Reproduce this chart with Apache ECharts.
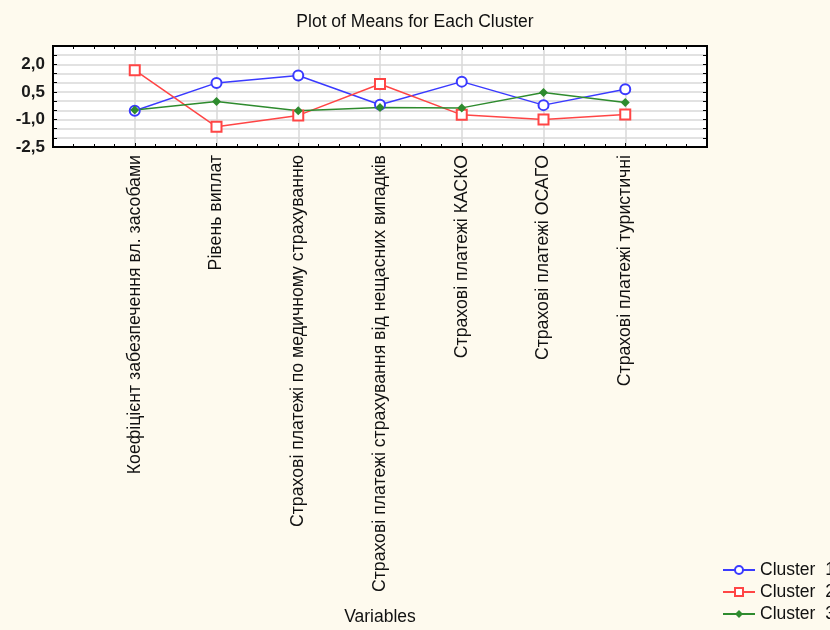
<!DOCTYPE html>
<html><head><meta charset="utf-8">
<script src="https://cdn.jsdelivr.net/npm/echarts@6/dist/echarts.min.js"></script>
<style>html,body{margin:0;padding:0;background:#fefaee;}#c{width:830px;height:630px;}</style>
</head><body><div id="c"></div>
<script>
const categories = ["Коефіцієнт забезпечення вл. засобами","Рівень виплат","Страхові платежі по медичному страхуванню","Страхові платежі страхування від нещасних випадків","Страхові платежі КАСКО","Страхові платежі ОСАГО","Страхові платежі туристичні"];
const cluster1 = [-0.53, 0.99, 1.39, -0.20, 1.06, -0.22, 0.65];
const cluster2 = [1.68, -1.40, -0.78, 0.93, -0.75, -1.00, -0.73];
const cluster3 = [-0.48, -0.02, -0.53, -0.35, -0.37, 0.47, -0.08];
const seriesNames = ["Cluster  1","Cluster  2","Cluster  3"];
const yTickLabels = [-2.5, -1.0, 0.5, 2.0];

const font = "Liberation Sans, Arial, sans-serif";
function pts(arr){ return arr.map((v,i)=>[i+1, v]); }
const chart = echarts.init(document.getElementById('c'), null, {renderer:'canvas'});
const xCommon = {
  type:'value', min:0, max:8, interval:1,
  splitLine:{show:false},
  axisTick:{show:true, inside:true, length:4, lineStyle:{color:'#000'}},
  minorTick:{show:true, splitNumber:4, length:3, lineStyle:{color:'#000'}},
  axisLine:{show:true, onZero:false, lineStyle:{color:'#000', width:2}}
};
const yCommon = {
  type:'value', min:-2.5, max:3.0, interval:0.5,
  axisTick:{show:true, inside:true, length:4, lineStyle:{color:'#000'}},
  axisLine:{show:true, onZero:false, lineStyle:{color:'#000', width:2}}
};
chart.setOption({
  backgroundColor:'#fefaee',
  animation:false,
  title:{text:'Plot of Means for Each Cluster', left:'center', top:8,
    textStyle:{fontFamily:font, fontSize:17.5, fontWeight:'normal', color:'#111'}},
  grid:{left:53, right:123, top:46, bottom:483, outerBoundsMode:'none', containLabel:false,
    show:true, backgroundColor:'#fff', borderColor:'#000', borderWidth:2},
  legend:{orient:'vertical', left:722, top:560, padding:0, width:300, height:80, itemWidth:32, itemHeight:10, itemGap:2,
    textStyle:{fontFamily:font, fontSize:17.5, lineHeight:20, color:'#111', overflow:'none'},
    data:seriesNames},
  xAxis:[
    Object.assign({}, xCommon, {
      position:'bottom',
      name:'Variables', nameLocation:'middle', nameGap:461,
      nameTextStyle:{fontFamily:font, fontSize:17.5, color:'#111'},
      splitLine:{show:true, lineStyle:{color:'#d9d9d9', width:1.5}},
      axisLabel:{show:true, rotate:90, margin:8, fontFamily:font, fontSize:17.7, color:'#111',
        formatter:function(v){ return (v>=1 && v<=categories.length) ? categories[v-1] : ''; }}
    }),
    Object.assign({}, xCommon, {position:'top', axisLabel:{show:false}})
  ],
  yAxis:[
    Object.assign({}, yCommon, {
      position:'left',
      splitLine:{show:true, lineStyle:{color:'#d9d9d9', width:1.5}},
      axisLabel:{show:true, margin:8, fontFamily:font, fontSize:17, fontWeight:'bold', color:'#1a1a1a',
        formatter:function(v){
          for (const t of yTickLabels) if (Math.abs(v-t)<1e-6) return t.toFixed(1).replace('.',',');
          return '';
        }}
    }),
    Object.assign({}, yCommon, {position:'right', axisLabel:{show:false}, splitLine:{show:false}})
  ],
  series:[
    {name:seriesNames[0], type:'line', data:pts(cluster1), symbol:'emptyCircle', symbolSize:10,
      itemStyle:{color:'#3a3aff', borderWidth:1.5}, lineStyle:{color:'#3a3aff', width:1.5}},
    {name:seriesNames[1], type:'line', data:pts(cluster2), symbol:'emptyRect', symbolSize:10,
      itemStyle:{color:'#ff4545', borderWidth:1.5}, lineStyle:{color:'#ff4545', width:1.5}},
    {name:seriesNames[2], type:'line', data:pts(cluster3), symbol:'diamond', symbolSize:9,
      itemStyle:{color:'#2e8b2e'}, lineStyle:{color:'#2e8b2e', width:1.5}}
  ]
});
</script></body></html>
